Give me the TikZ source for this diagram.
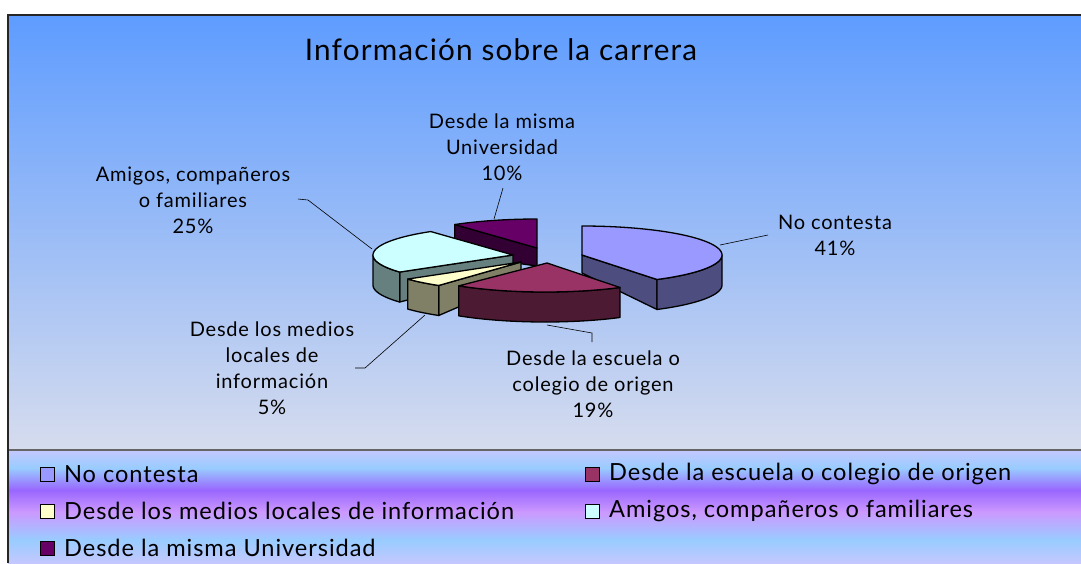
\documentclass[tikz,border=0pt]{standalone}
\usepackage{fontspec}
\setmainfont[LetterSpace=4]{Lato}
\usetikzlibrary{positioning}

\definecolor{nctop}{RGB}{153,153,255}
\definecolor{ncside}{RGB}{77,77,128}
\definecolor{estop}{RGB}{153,51,102}
\definecolor{esside}{RGB}{77,26,51}
\definecolor{metop}{RGB}{255,255,204}
\definecolor{meside}{RGB}{128,128,102}
\definecolor{amtop}{RGB}{204,255,255}
\definecolor{amside}{RGB}{102,128,128}
\definecolor{mutop}{RGB}{102,0,102}
\definecolor{muside}{RGB}{51,0,51}
\definecolor{bgtop}{RGB}{94,156,255}
\definecolor{bgmid}{RGB}{135,188,250}
\definecolor{bgbot}{RGB}{214,220,238}
\definecolor{lgA}{RGB}{196,200,255}
\definecolor{lgB}{RGB}{153,204,255}
\definecolor{lgC}{RGB}{153,102,255}
\definecolor{lgD}{RGB}{204,153,255}

\begin{document}
\begin{tikzpicture}[x=1pt, y=-1pt,
    pieedge/.style={draw=black, line width=1.3pt, line join=round},
    leader/.style={draw=black, line width=0.6pt},
    lbl/.style={align=center, font=\fontsize{20}{26}\selectfont},
    legbox/.style={draw=black, line width=0.9pt, minimum size=14pt, inner sep=0pt},
    legtext/.style={font=\fontsize{23.6}{26}\selectfont, inner sep=0pt}]
  \useasboundingbox (0,0) rectangle (1081,563);
  \fill[white] (0,0) rectangle (1081,563);
  % plot area and legend backgrounds
  \shade[top color=bgtop, middle color=bgmid, bottom color=bgbot] (8,15) rectangle (1081,450);
  \shade[top color=lgA, bottom color=lgB] (8,450) rectangle (1081,468);
  \shade[top color=lgB, bottom color=lgC] (8,468) rectangle (1081,490);
  \shade[top color=lgC, bottom color=lgD] (8,490) rectangle (1081,512);
  \shade[top color=lgD, bottom color=lgB] (8,512) rectangle (1081,540);
  \shade[top color=lgB, bottom color=lgA] (8,540) rectangle (1081,563);
  \draw[line width=1.5pt, black!60] (8,450) -- (1081,450);
  \draw[line width=2pt, black!85] (8,563) -- (8,15) -- (1081,15);

  \node[font=\fontsize{29.7}{34}\selectfont] (title) at (501,50) {Información sobre la carrera};

  % Desde la misma Universidad
  \filldraw[pieedge, fill=muside] (537,248) -- (454.7,224.5) -- (454.7,254.5) -- (537,266) -- cycle;
  \filldraw[pieedge, fill=mutop] (537,248) -- plot[domain=324:360, samples=20] ({537+140*sin(\x)},{248-29*cos(\x)}) -- cycle;
  % No contesta
  \filldraw[pieedge, fill=ncside] (582,255) -- (657,279.5) -- (657,309.5) -- (582,273) -- cycle;
  \filldraw[pieedge, fill=ncside] plot[domain=90:147.6, samples=30] ({582+140*sin(\x)},{255-29*cos(\x)})
    -- plot[domain=147.6:90, samples=30] ({582+140*sin(\x)},{285-29*cos(\x)}) -- cycle;
  \filldraw[pieedge, fill=nctop] (582,255) -- plot[domain=0:147.6, samples=60] ({582+140*sin(\x)},{255-29*cos(\x)}) -- cycle;
  % Amigos, companeros o familiares
  \filldraw[pieedge, fill=amside] (513,255) -- (399.7,272) -- (399.7,302) -- (513,273) -- cycle;
  \filldraw[pieedge, fill=amside] plot[domain=234:270, samples=20] ({513+140*sin(\x)},{255-29*cos(\x)})
    -- plot[domain=270:234, samples=20] ({513+140*sin(\x)},{285-29*cos(\x)}) -- cycle;
  \filldraw[pieedge, fill=amtop] (513,255) -- plot[domain=234:324, samples=40] ({513+140*sin(\x)},{255-29*cos(\x)}) -- cycle;
  % Desde los medios locales
  \filldraw[pieedge, fill=meside] (521,262) -- (438.7,285.5) -- (438.7,315.5) -- (521,280) -- cycle;
  \filldraw[pieedge, fill=meside] plot[domain=216:234, samples=10] ({521+140*sin(\x)},{262-29*cos(\x)})
    -- plot[domain=234:216, samples=10] ({521+140*sin(\x)},{292-29*cos(\x)}) -- cycle;
  \filldraw[pieedge, fill=metop] (521,262) -- plot[domain=216:234, samples=10] ({521+140*sin(\x)},{262-29*cos(\x)}) -- cycle;
  % Desde la escuela o colegio
  \filldraw[pieedge, fill=esside] plot[domain=147.6:218, samples=30] ({545+140*sin(\x)},{263-29*cos(\x)})
    -- plot[domain=218:147.6, samples=30] ({545+140*sin(\x)},{293-29*cos(\x)}) -- cycle;
  \filldraw[pieedge, fill=estop] (547,263) -- plot[domain=147.6:218, samples=30] ({545+140*sin(\x)},{263-29*cos(\x)}) -- cycle;

  % data labels
  \node[lbl] (nc-lbl) at (835,235) {No contesta\\41\%};
  \node[lbl] (mu-lbl) at (502,147) {Desde la misma\\Universidad\\10\%};
  \node[lbl] (am-lbl) at (193,200) {Amigos, compañeros\\o familiares\\25\%};
  \node[lbl] (me-lbl) at (272,368) {Desde los medios\\locales de\\información\\5\%};
  \node[lbl] (es-lbl) at (593,384) {Desde la escuela o\\colegio de origen\\19\%};

  % leader lines
  \coordinate (nc-tip) at (720,245);
  \coordinate (nc-end) at (768,235);
  \coordinate (mu-tip) at (494,219);
  \coordinate (mu-end) at (503,188);
  \coordinate (am-tip) at (372,249);
  \coordinate (am-bend) at (308,200);
  \coordinate (am-end) at (298,199);
  \coordinate (me-tip) at (425,315);
  \coordinate (me-bend) at (365,368);
  \coordinate (me-end) at (355,368);
  \coordinate (es-tip) at (547,325);
  \coordinate (es-bend) at (592,333);
  \coordinate (es-end) at (592,342);
  \draw[leader] (nc-tip) -- (nc-end);
  \draw[leader] (mu-tip) -- (mu-end);
  \draw[leader] (am-tip) -- (am-bend) -- (am-end);
  \draw[leader] (me-tip) -- (me-bend) -- (me-end);
  \draw[leader] (es-tip) -- (es-bend) -- (es-end);

  % legend
  \node[legbox, fill=nctop] (lk1) at (47.5,474) {};
  \node[legtext, right=9pt of lk1] (lt1) {No contesta};
  \node[legbox, fill=metop] (lk3) at (47.5,511) {};
  \node[legtext, right=9pt of lk3] (lt3) {Desde los medios locales de información};
  \node[legbox, fill=mutop] (lk5) at (47.5,548) {};
  \node[legtext, right=9pt of lk5] (lt5) {Desde la misma Universidad};
  \node[legbox, fill=estop] (lk2) at (592.5,474) {};
  \node[legtext, right=9pt of lk2] (lt2) {Desde la escuela o colegio de origen};
  \node[legbox, fill=amtop] (lk4) at (592.5,511) {};
  \node[legtext, right=9pt of lk4] (lt4) {Amigos, compañeros o familiares};
\end{tikzpicture}
\end{document}
